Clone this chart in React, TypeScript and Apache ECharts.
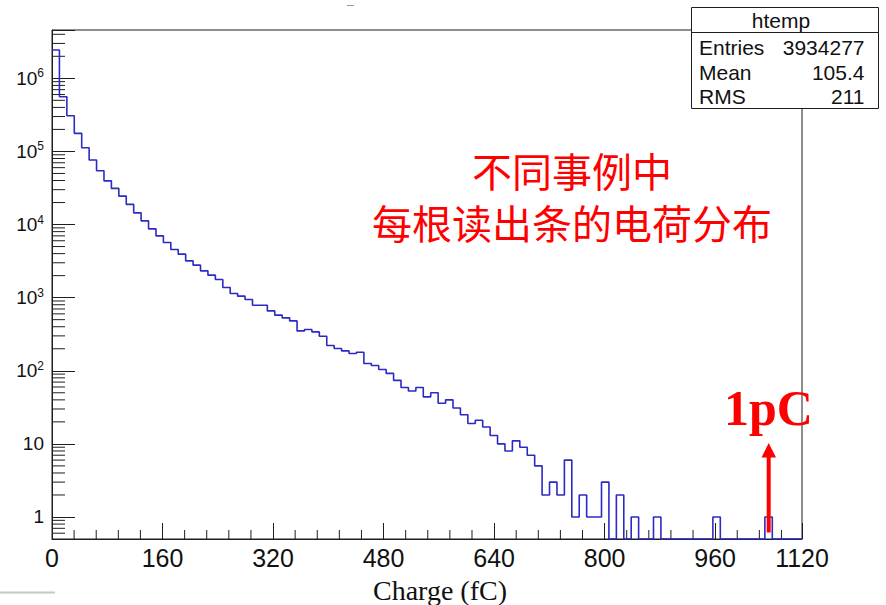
import { useEffect, useRef } from "react";
import * as echarts from "echarts";

// Histogram "htemp": charge per readout strip, 101 bins of 10.75 fC starting at 0
const BIN_WIDTH = 10.75;
const COUNTS = [
  2437000, 559700, 307500, 176600, 112200, 76200, 54300, 39600, 31200, 24500,
  18900, 14460, 11240, 8735, 7008, 5690, 4565, 3937, 3188, 2784,
  2327, 2031, 1774, 1378, 1140, 1048, 945, 789, 789, 659,
  576, 529, 481, 351, 367, 340, 297, 222, 202, 187,
  172, 179, 126, 118, 104, 92, 74, 59, 53, 59,
  44, 50, 36, 40, 31, 25, 19, 21, 17, 13,
  10, 8, 11, 9, 7, 5, 2, 3, 2, 6,
  1, 2, 1, 1, 3, 0, 2, 0, 1, 0,
  0, 1, 0, 0, 0, 0, 0, 0, 0, 1,
  0, 0, 0, 0, 0, 0, 1, 0, 0, 0,
  0,
];

const X_TICK_LABELS = ["0", "160", "320", "480", "640", "800", "960", "1120"];
const X_MAJOR_STEP = 160;
const X_MINOR_STEP = 32;
const Y_MIN = 0.5;
const Y_MAX = 4.58e6;
const X_MAX = COUNTS.length * BIN_WIDTH;

const STATS_TITLE = "htemp";
const STATS_ROWS = [
  ["Entries", "3934277"],
  ["Mean", "105.4"],
  ["RMS", "211"],
];
const NOTE_LINES = ["不同事例中", "每根读出条的电荷分布"];
const MARK_LABEL = "1pC";
const X_TITLE = "Charge (fC)";

const AXIS_COLOR = "#1e1e1e";
const LINE_COLOR = "#2b2bc4";
const SANS = '"Liberation Sans", Arial, sans-serif';
const NARROW = '"Liberation Sans Narrow", "Arial Narrow", "Liberation Sans", sans-serif';
const SERIF = '"Liberation Serif", "Times New Roman", serif';

// minor tick positions (ROOT style: 2..9 x 10^k on the log axis, every 32 fC on x)
const Y_MINOR: number[] = [];
for (let k = -1; k <= 6; k++) {
  for (let m = 2; m <= 9; m++) {
    const v = m * Math.pow(10, k);
    if (v > Y_MIN && v < Y_MAX) Y_MINOR.push(v);
  }
}
const X_MINOR: number[] = [];
for (let v = X_MINOR_STEP; v < X_MAX; v += X_MINOR_STEP) {
  if (v % X_MAJOR_STEP !== 0) X_MINOR.push(v);
}

function buildOption(): echarts.EChartsCoreOption {
  // step outline: one point per bin low edge, empty bins drop to the frame floor
  const outline: number[][] = COUNTS.map((c, i) => [i * BIN_WIDTH, Math.max(c, Y_MIN)]);
  outline.push([X_MAX, Math.max(COUNTS[COUNTS.length - 1], Y_MIN)]);

  const boxL = 691.5;
  const boxR = 878.5;
  const boxT = 7.5;
  const boxB = 108.5;
  const statsGraphics: any[] = [
    {
      type: "rect",
      shape: { x: boxL, y: boxT, width: boxR - boxL, height: boxB - boxT },
      style: { fill: "#fff", stroke: AXIS_COLOR, lineWidth: 1 },
      z: 100,
    },
    {
      type: "line",
      shape: { x1: boxL, y1: 32.5, x2: boxR, y2: 32.5 },
      style: { stroke: AXIS_COLOR, lineWidth: 1 },
      z: 101,
    },
    {
      type: "text",
      x: (boxL + boxR) / 2 - 4,
      y: 20.5,
      style: {
        text: STATS_TITLE,
        font: `21px ${SANS}`,
        fill: "#111",
        align: "center",
        verticalAlign: "middle",
      },
      z: 101,
    },
  ];
  STATS_ROWS.forEach(([k, v], i) => {
    const y = 47.3 + i * 24.7;
    statsGraphics.push(
      {
        type: "text",
        x: 699,
        y,
        style: { text: k, font: `21px ${SANS}`, fill: "#111", align: "left", verticalAlign: "middle" },
        z: 101,
      },
      {
        type: "text",
        x: 864.5,
        y,
        style: { text: v, font: `21px ${SANS}`, fill: "#111", align: "right", verticalAlign: "middle" },
        z: 101,
      }
    );
  });

  return {
    animation: false,
    backgroundColor: "#ffffff",
    grid: {
      left: 52,
      right: 84,
      top: 30,
      bottom: 66,
      show: true,
      borderColor: AXIS_COLOR,
      borderWidth: 1,
      backgroundColor: "transparent",
    },
    xAxis: {
      type: "value",
      min: 0,
      max: X_MAX,
      interval: X_MAJOR_STEP,
      axisLine: { show: true, lineStyle: { color: AXIS_COLOR, width: 1 } },
      axisTick: { show: true, inside: true, length: 16, lineStyle: { color: AXIS_COLOR, width: 1 } },
      splitLine: { show: false },
      axisLabel: {
        show: true,
        showMinLabel: true,
        showMaxLabel: true,
        margin: 6,
        color: "#111",
        fontFamily: NARROW,
        fontSize: 25,
        formatter: (_v: number, i: number) => X_TICK_LABELS[i] ?? "",
      },
    },
    yAxis: {
      type: "log",
      logBase: 10,
      min: Y_MIN,
      max: Y_MAX,
      axisLine: { show: true, lineStyle: { color: AXIS_COLOR, width: 1 } },
      axisTick: { show: true, inside: true, length: 23, lineStyle: { color: AXIS_COLOR, width: 1 } },
      splitLine: { show: false },
      axisLabel: {
        show: true,
        margin: 8,
        color: "#111",
        formatter: (v: number) => {
          const lg = Math.log10(v);
          const e = Math.round(lg);
          if (Math.abs(lg - e) > 1e-6) return "";
          if (e === 0) return "{b|1}";
          if (e === 1) return "{b|10}";
          return `{b|10}{s|${e}}`;
        },
        rich: {
          b: { fontFamily: SANS, fontSize: 19, color: "#111", lineHeight: 22 },
          s: { fontFamily: SANS, fontSize: 12, color: "#111", verticalAlign: "top", lineHeight: 12 },
        },
      },
    },
    series: [
      {
        type: "line",
        data: outline,
        step: "end",
        showSymbol: false,
        symbol: "none",
        lineStyle: { color: LINE_COLOR, width: 1.6 },
        z: 5,
      },
      {
        type: "custom",
        coordinateSystem: "cartesian2d",
        silent: true,
        clip: false,
        data: Y_MINOR.map((v) => [0, v]),
        renderItem: (_p: any, api: any) => {
          const p = api.coord([0, api.value(1)]);
          return {
            type: "line",
            shape: { x1: p[0], y1: p[1], x2: p[0] + 13, y2: p[1] },
            style: { stroke: AXIS_COLOR, lineWidth: 1 },
          };
        },
        z: 3,
      },
      {
        type: "custom",
        coordinateSystem: "cartesian2d",
        silent: true,
        clip: false,
        data: X_MINOR.map((v) => [v, Y_MIN]),
        renderItem: (_p: any, api: any) => {
          const p = api.coord([api.value(0), Y_MIN]);
          return {
            type: "line",
            shape: { x1: p[0], y1: p[1], x2: p[0], y2: p[1] - 9 },
            style: { stroke: AXIS_COLOR, lineWidth: 1 },
          };
        },
        z: 3,
      },
    ],
    graphic: [
      ...statsGraphics,
      {
        type: "text",
        x: 572,
        y: 196,
        style: {
          text: NOTE_LINES.join("\n"),
          font: `40px "Noto Sans CJK SC", sans-serif`,
          lineHeight: 52,
          fill: "#ff0000",
          align: "center",
          verticalAlign: "middle",
        },
        z: 50,
      },
      {
        type: "text",
        x: 440,
        y: 590,
        style: {
          text: X_TITLE,
          font: `28px ${SERIF}`,
          fill: "#111",
          align: "center",
          verticalAlign: "middle",
        },
      },
      {
        type: "text",
        x: 768.5,
        y: 408,
        style: {
          text: MARK_LABEL,
          font: `bold 50px ${SERIF}`,
          fill: "#ff0000",
          align: "center",
          verticalAlign: "middle",
        },
        z: 60,
      },
      {
        type: "line",
        shape: { x1: 768.7, y1: 532.5, x2: 768.7, y2: 455 },
        style: { stroke: "#ff0000", lineWidth: 4 },
        z: 60,
      },
      {
        type: "polygon",
        shape: { points: [[768.7, 443], [761.5, 457.5], [776, 457.5]] },
        style: { fill: "#ff0000" },
        z: 60,
      },
      {
        type: "line",
        shape: { x1: 347, y1: 5.5, x2: 354, y2: 5.5 },
        style: { stroke: "#9a9a9a", lineWidth: 1 },
      },
      {
        type: "line",
        shape: { x1: 0, y1: 592.5, x2: 55, y2: 592.5 },
        style: { stroke: "#c8c8c8", lineWidth: 2 },
      },
    ],
  };
}

export default function App() {
  const ref = useRef<HTMLDivElement>(null);
  useEffect(() => {
    document.body.style.margin = "0";
    if (!ref.current) return;
    const chart = echarts.init(ref.current, null, { renderer: "svg" });
    chart.setOption(buildOption());
    return () => chart.dispose();
  }, []);
  return (
    <div
      ref={ref}
      style={{ position: "fixed", left: 0, top: 0, width: 886, height: 605, background: "#fff" }}
    />
  );
}
